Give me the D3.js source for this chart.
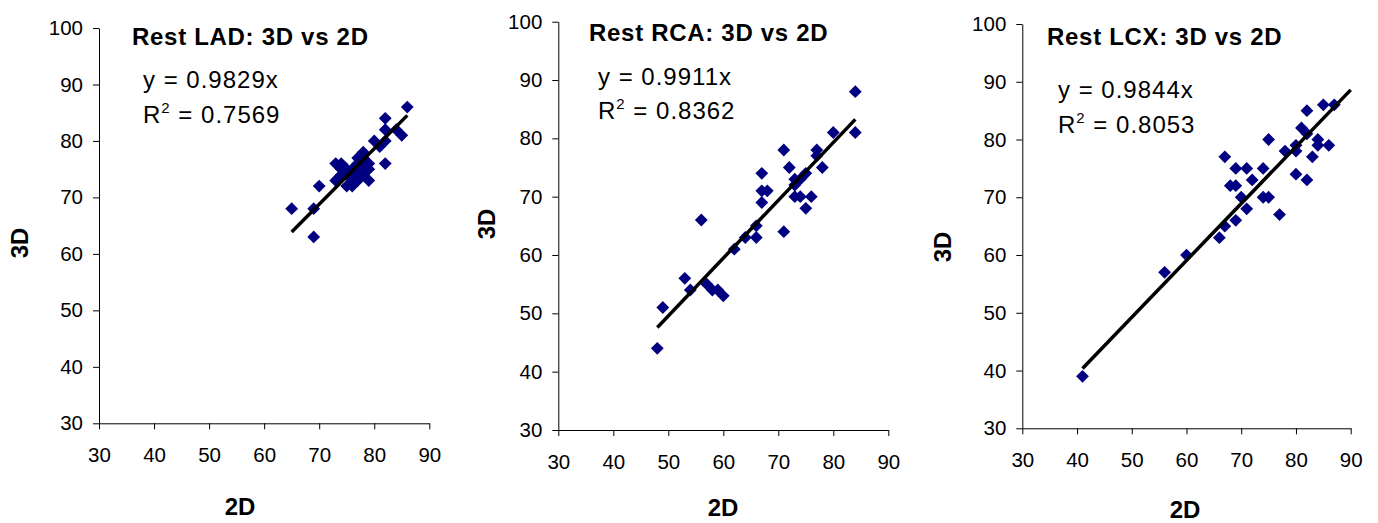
<!DOCTYPE html>
<html>
<head>
<meta charset="utf-8">
<script src="https://cdn.jsdelivr.net/npm/d3@7"></script>
<style>
body { margin: 0; background: #fff; }
text { font-family: Arial, "Liberation Sans", sans-serif; fill: #000; }
</style>
</head>
<body>
<svg id="chart" width="1378" height="523"></svg>
<script>
// values
var xTicks = [30, 40, 50, 60, 70, 80, 90];
var yTicks = [30, 40, 50, 60, 70, 80, 90, 100];

var titles = ["Rest LAD: 3D vs 2D", "Rest RCA: 3D vs 2D", "Rest LCX: 3D vs 2D"];
var slopes = [0.9829, 0.9911, 0.9844];
var r2Labels = ["0.7569", "0.8362", "0.8053"];
var fitRanges = [[65, 86], [48, 84], [41, 90]];

var ladX = [65, 69, 69, 70, 73, 73, 74, 74, 75, 75, 76, 76, 75, 76, 77, 77, 77, 78, 78, 78, 79, 79, 79, 78, 80, 81, 82, 82, 82, 82, 84, 85, 86, 76, 77, 74];
var ladY = [68, 68, 63, 72, 76, 73, 75, 76, 74, 72, 72, 73, 75, 75, 75, 77, 76, 77, 78, 76, 76, 75, 73, 74, 80, 79, 80, 82, 84, 76, 82, 81, 86, 74, 73, 74];

var rcaX = [48, 49, 53, 54, 56, 57, 58, 59, 60, 62, 64, 66, 66, 67, 67, 68, 67, 71, 71, 72, 73, 73, 74, 73, 75, 75, 76, 77, 77, 78, 80, 84, 84, 74];
var rcaY = [44, 51, 56, 54, 66, 55, 54, 54, 53, 61, 63, 65, 63, 74, 71, 71, 69, 78, 64, 75, 73, 70, 70, 72, 74, 68, 70, 78, 77, 75, 81, 88, 81, 73];

var lcxX = [41, 56, 60, 66, 67, 69, 67, 68, 69, 69, 71, 70, 71, 72, 74, 74, 75, 75, 77, 78, 80, 80, 80, 81, 82, 82, 82, 83, 84, 84, 86, 85, 87];
var lcxY = [39, 57, 60, 63, 65, 66, 77, 72, 72, 75, 75, 70, 68, 73, 75, 70, 70, 80, 67, 78, 79, 78, 74, 82, 81, 85, 73, 77, 80, 79, 79, 86, 86];

var seriesX = [ladX, rcaX, lcxX];
var seriesY = [ladY, rcaY, lcxY];

// panel placement
var panels = [
  {left: 99, right: 429.3, top: 28, bottom: 423.3, titleX: 132, titleY: 45, eqX: 143, eqY: 88, r2Y: 122.5,
   xlabX: 240, xlabY: 515, ylabX: 28, ylabY: 243},
  {left: 558.3, right: 888.3, top: 21.7, bottom: 430, titleX: 589, titleY: 40.5, eqX: 598, eqY: 85, r2Y: 119.3,
   xlabX: 723, xlabY: 516, ylabX: 495, ylabY: 224},
  {left: 1022.3, right: 1350.7, top: 24, bottom: 428.3, titleX: 1047, titleY: 45, eqX: 1058, eqY: 98.3, r2Y: 133.3,
   xlabX: 1185, xlabY: 518, ylabX: 951, ylabY: 247}
];

var svg = d3.select("#chart");
var diamond = d3.symbol().type(d3.symbolSquare).size(82);

panels.forEach(function(p, i) {
  var x = d3.scaleLinear().domain([30, 90]).range([p.left, p.right]);
  var y = d3.scaleLinear().domain([30, 100]).range([p.bottom, p.top]);
  var g = svg.append("g");

  var xAxis = d3.axisBottom(x).tickValues(xTicks).tickSize(6).tickPadding(18).tickSizeOuter(0);
  var yAxis = d3.axisLeft(y).tickValues(yTicks).tickSize(6).tickPadding(10).tickSizeOuter(0);

  g.append("g").attr("transform", "translate(0," + p.bottom + ")").call(xAxis)
    .call(a => a.selectAll("text").style("font-size", "20.5px").attr("fill", "#000"))
    .call(a => a.selectAll("line,path").attr("stroke", "#000"));
  g.append("g").attr("transform", "translate(" + p.left + ",0)").call(yAxis)
    .call(a => a.selectAll("text").style("font-size", "20.5px").attr("fill", "#000"))
    .call(a => a.selectAll("line,path").attr("stroke", "#000"));

  var pts = seriesX[i].map((v, k) => [v, seriesY[i][k]]);
  g.append("g").selectAll("path")
    .data(pts)
    .enter()
    .append("path")
    .attr("d", diamond)
    .attr("transform", d => "translate(" + x(d[0]) + "," + y(d[1]) + ") rotate(45)")
    .attr("fill", "#000080");

  var r = fitRanges[i];
  g.append("line")
    .attr("x1", x(r[0])).attr("y1", y(r[0] * slopes[i]))
    .attr("x2", x(r[1])).attr("y2", y(r[1] * slopes[i]))
    .attr("stroke", "#000").attr("stroke-width", 3.5);

  g.append("text").attr("x", p.titleX).attr("y", p.titleY)
    .style("font-size", "24px").style("font-weight", "bold").style("letter-spacing", "0.7px")
    .text(titles[i]);

  g.append("text").attr("x", p.eqX).attr("y", p.eqY)
    .style("font-size", "24px").style("letter-spacing", "1px")
    .text("y = " + slopes[i] + "x");

  var t = g.append("text").attr("x", p.eqX).attr("y", p.r2Y)
    .style("font-size", "24px").style("letter-spacing", "1px");
  t.append("tspan").text("R");
  t.append("tspan").attr("dy", -10).style("font-size", "15px").text("2");
  t.append("tspan").attr("dy", 10).text(" = " + r2Labels[i]);

  g.append("text").attr("x", p.xlabX).attr("y", p.xlabY)
    .attr("text-anchor", "middle")
    .style("font-size", "24px").style("font-weight", "bold")
    .text("2D");

  g.append("text")
    .attr("transform", "translate(" + p.ylabX + "," + p.ylabY + ") rotate(-90)")
    .attr("text-anchor", "middle")
    .style("font-size", "24px").style("font-weight", "bold")
    .text("3D");
});
</script>
</body>
</html>
